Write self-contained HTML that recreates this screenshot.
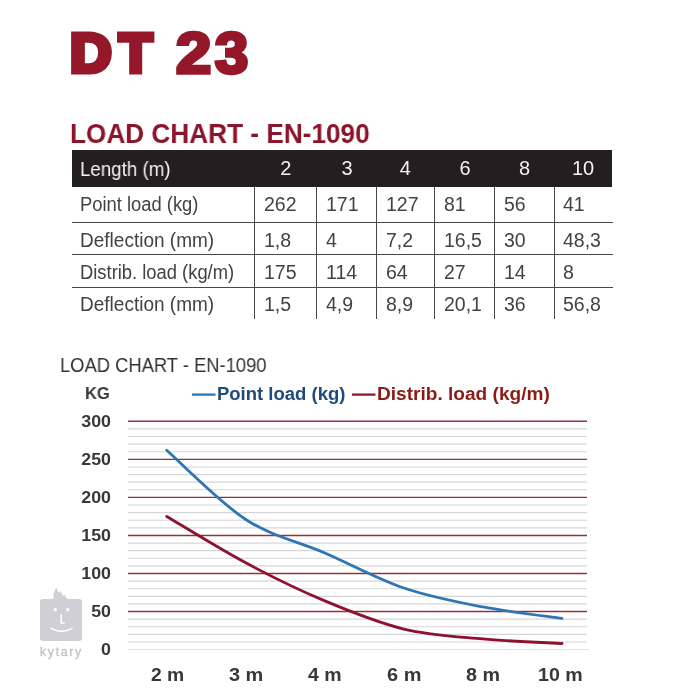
<!DOCTYPE html>
<html lang="en">
<head>
<meta charset="utf-8">
<title>DT 23 - Load chart EN-1090</title>
<style>
html,body{margin:0;padding:0;background:#fff;}
body{width:698px;height:698px;position:relative;overflow:hidden;font-family:"Liberation Sans",sans-serif;color:#3a3a3c;}
div{position:absolute;white-space:nowrap;will-change:transform;}
#dt{left:0;top:19.76px;width:300px;height:66px;font-size:54.9px;line-height:66px;font-weight:bold;color:#95182a;-webkit-text-stroke:5.2px #95182a;}
#dt span{position:absolute;top:0;transform-origin:0 0;}
#dt span.n{font-size:56.8px;-webkit-text-stroke-width:3.6px;top:0.7px;}
#h2{left:70.15px;top:118.8px;font-size:28px;line-height:30px;font-weight:bold;color:#8b142a;transform-origin:0 0;transform:scaleX(0.935);}
#thead{left:72px;top:150px;width:540.3px;height:36.6px;background:#231f20;}
#hlab{left:79.6px;top:157.6px;font-size:20px;line-height:22px;color:#f2f2f2;transform-origin:0 0;transform:scaleX(0.936);}
.hc{top:157.2px;font-size:20px;line-height:22px;color:#f2f2f2;text-align:center;}
.lab{left:80.2px;font-size:19.5px;line-height:22px;color:#424244;}
.lab span{display:inline-block;transform-origin:0 0;}
.dc{font-size:19.5px;line-height:22px;color:#424244;}
.hl{left:72px;width:541.2px;height:1.45px;background:#48484a;}
.vl{top:186px;height:133px;width:1.45px;background:#48484a;}
#ct{left:59.6px;top:354.2px;font-size:20px;line-height:22px;color:#333335;transform-origin:0 0;transform:scaleX(0.918);}
#kg{left:85.2px;top:383px;font-size:17.4px;line-height:20px;font-weight:bold;color:#38383a;transform-origin:0 0;transform:scaleX(0.95);}
.lg{top:383.5px;font-size:18px;line-height:20px;font-weight:bold;transform-origin:0 0;}
#lg1{left:217.2px;color:#1f4b7c;transform:scaleX(1.027);}
#lg2{left:377px;color:#8a1b16;transform:scaleX(1.06);}
.yl{left:50.6px;width:60px;text-align:right;font-size:16.5px;line-height:20px;font-weight:bold;color:#38383a;transform-origin:100% 0;transform:scaleX(1.08);}
.xl{top:664.5px;font-size:17.6px;line-height:20px;font-weight:bold;color:#38383a;transform-origin:0 0;}
#chart{position:absolute;left:0;top:0;}
#wm{left:40.3px;top:599.1px;width:42px;height:41.8px;background:#d0cfd3;border-radius:3px;}
#wmt{left:40.3px;top:644.6px;font-size:12.4px;line-height:14px;letter-spacing:1.65px;color:#c2c2c5;-webkit-text-stroke:0.3px #c2c2c5;}
</style>
</head>
<body>
<div id="dt"><span style="left:70.39px;transform:scaleX(1.050)">D</span><span style="left:119.14px;transform:scaleX(0.996)">T</span> <span class="n" style="left:175.82px;transform:scaleX(1.115)">2</span><span class="n" style="left:214.77px;transform:scaleX(1.051)">3</span></div>
<div id="h2">LOAD CHART - EN-1090</div>
<div id="thead"></div>
<div id="hlab">Length (m)</div>
<div class="hc" style="left:254.9px;width:61.6px">2</div>
<div class="hc" style="left:316.5px;width:59.9px">3</div>
<div class="hc" style="left:376.4px;width:58.6px">4</div>
<div class="hc" style="left:435.0px;width:60.0px">6</div>
<div class="hc" style="left:495.0px;width:59.2px">8</div>
<div class="hc" style="left:554.2px;width:58.1px">10</div>
<div class="lab" style="top:193.35px"><span style="transform:scaleX(0.942)">Point load (kg)</span></div>
<div class="dc" style="top:193.35px;left:264.1px">262</div>
<div class="dc" style="top:193.35px;left:325.7px">171</div>
<div class="dc" style="top:193.35px;left:385.6px">127</div>
<div class="dc" style="top:193.35px;left:444.2px">81</div>
<div class="dc" style="top:193.35px;left:504.2px">56</div>
<div class="dc" style="top:193.35px;left:563.4px">41</div>
<div class="lab" style="top:229.25px"><span style="transform:scaleX(0.975)">Deflection (mm)</span></div>
<div class="dc" style="top:229.25px;left:264.1px">1,8</div>
<div class="dc" style="top:229.25px;left:325.7px">4</div>
<div class="dc" style="top:229.25px;left:385.6px">7,2</div>
<div class="dc" style="top:229.25px;left:444.2px">16,5</div>
<div class="dc" style="top:229.25px;left:504.2px">30</div>
<div class="dc" style="top:229.25px;left:563.4px">48,3</div>
<div class="lab" style="top:260.75px"><span style="transform:scaleX(0.942)">Distrib. load (kg/m)</span></div>
<div class="dc" style="top:260.75px;left:264.1px">175</div>
<div class="dc" style="top:260.75px;left:325.7px">114</div>
<div class="dc" style="top:260.75px;left:385.6px">64</div>
<div class="dc" style="top:260.75px;left:444.2px">27</div>
<div class="dc" style="top:260.75px;left:504.2px">14</div>
<div class="dc" style="top:260.75px;left:563.4px">8</div>
<div class="lab" style="top:293.15px"><span style="transform:scaleX(0.975)">Deflection (mm)</span></div>
<div class="dc" style="top:293.15px;left:264.1px">1,5</div>
<div class="dc" style="top:293.15px;left:325.7px">4,9</div>
<div class="dc" style="top:293.15px;left:385.6px">8,9</div>
<div class="dc" style="top:293.15px;left:444.2px">20,1</div>
<div class="dc" style="top:293.15px;left:504.2px">36</div>
<div class="dc" style="top:293.15px;left:563.4px">56,8</div>
<div class="hl" style="top:222.1px"></div>
<div class="hl" style="top:254.3px"></div>
<div class="hl" style="top:286.5px"></div>
<div class="vl" style="left:254.2px"></div>
<div class="vl" style="left:315.8px"></div>
<div class="vl" style="left:375.7px"></div>
<div class="vl" style="left:434.3px"></div>
<div class="vl" style="left:494.3px"></div>
<div class="vl" style="left:553.5px"></div>
<div id="ct">LOAD CHART - EN-1090</div>
<div id="kg">KG</div>
<div id="wm"></div>
<svg id="chart" width="698" height="698" viewBox="0 0 698 698">
<g shape-rendering="auto">
<line x1="128.0" x2="589.0" y1="649.60" y2="649.60" stroke="#dcdce0" stroke-width="0.9"/>
<line x1="128.0" x2="587.0" y1="641.99" y2="641.99" stroke="#d6d5da" stroke-width="1.15"/>
<line x1="128.0" x2="587.0" y1="634.38" y2="634.38" stroke="#d6d5da" stroke-width="1.15"/>
<line x1="128.0" x2="587.0" y1="626.77" y2="626.77" stroke="#d6d5da" stroke-width="1.15"/>
<line x1="128.0" x2="587.0" y1="619.16" y2="619.16" stroke="#d6d5da" stroke-width="1.15"/>
<line x1="128.0" x2="587.0" y1="611.55" y2="611.55" stroke="#94303c" stroke-width="1.4"/>
<line x1="128.0" x2="587.0" y1="603.94" y2="603.94" stroke="#d6d5da" stroke-width="1.15"/>
<line x1="128.0" x2="587.0" y1="596.33" y2="596.33" stroke="#d6d5da" stroke-width="1.15"/>
<line x1="128.0" x2="587.0" y1="588.72" y2="588.72" stroke="#d6d5da" stroke-width="1.15"/>
<line x1="128.0" x2="587.0" y1="581.11" y2="581.11" stroke="#d6d5da" stroke-width="1.15"/>
<line x1="128.0" x2="587.0" y1="573.50" y2="573.50" stroke="#94303c" stroke-width="1.4"/>
<line x1="128.0" x2="587.0" y1="565.89" y2="565.89" stroke="#d6d5da" stroke-width="1.15"/>
<line x1="128.0" x2="587.0" y1="558.28" y2="558.28" stroke="#d6d5da" stroke-width="1.15"/>
<line x1="128.0" x2="587.0" y1="550.67" y2="550.67" stroke="#d6d5da" stroke-width="1.15"/>
<line x1="128.0" x2="587.0" y1="543.06" y2="543.06" stroke="#d6d5da" stroke-width="1.15"/>
<line x1="128.0" x2="587.0" y1="535.45" y2="535.45" stroke="#94303c" stroke-width="1.4"/>
<line x1="128.0" x2="587.0" y1="527.84" y2="527.84" stroke="#d6d5da" stroke-width="1.15"/>
<line x1="128.0" x2="587.0" y1="520.23" y2="520.23" stroke="#d6d5da" stroke-width="1.15"/>
<line x1="128.0" x2="587.0" y1="512.62" y2="512.62" stroke="#d6d5da" stroke-width="1.15"/>
<line x1="128.0" x2="587.0" y1="505.01" y2="505.01" stroke="#d6d5da" stroke-width="1.15"/>
<line x1="128.0" x2="587.0" y1="497.40" y2="497.40" stroke="#94303c" stroke-width="1.4"/>
<line x1="128.0" x2="587.0" y1="489.79" y2="489.79" stroke="#d6d5da" stroke-width="1.15"/>
<line x1="128.0" x2="587.0" y1="482.18" y2="482.18" stroke="#d6d5da" stroke-width="1.15"/>
<line x1="128.0" x2="587.0" y1="474.57" y2="474.57" stroke="#d6d5da" stroke-width="1.15"/>
<line x1="128.0" x2="587.0" y1="466.96" y2="466.96" stroke="#d6d5da" stroke-width="1.15"/>
<line x1="128.0" x2="587.0" y1="459.35" y2="459.35" stroke="#94303c" stroke-width="1.4"/>
<line x1="128.0" x2="587.0" y1="451.74" y2="451.74" stroke="#d6d5da" stroke-width="1.15"/>
<line x1="128.0" x2="587.0" y1="444.13" y2="444.13" stroke="#d6d5da" stroke-width="1.15"/>
<line x1="128.0" x2="587.0" y1="436.52" y2="436.52" stroke="#d6d5da" stroke-width="1.15"/>
<line x1="128.0" x2="587.0" y1="428.91" y2="428.91" stroke="#d6d5da" stroke-width="1.15"/>
<line x1="128.0" x2="587.0" y1="421.30" y2="421.30" stroke="#94303c" stroke-width="1.4"/>
</g>
<line x1="192" x2="215.5" y1="394.6" y2="394.6" stroke="#2e75b6" stroke-width="2.3"/>
<line x1="352" x2="375.5" y1="394.6" y2="394.6" stroke="#8c1a2e" stroke-width="2.3"/>
<path d="M166.70 450.22 C179.88 461.76 219.41 502.35 245.76 519.47 C272.11 536.59 298.47 541.54 324.82 552.95 C351.17 564.37 377.53 578.95 403.88 587.96 C430.23 596.96 456.59 601.91 482.94 606.98 C509.29 612.06 548.82 616.50 562.00 618.40" fill="none" stroke="#2e75b6" stroke-width="2.8" stroke-linecap="round"/>
<path d="M166.70 516.42 C179.88 524.16 219.41 548.77 245.76 562.85 C272.11 576.92 298.47 589.86 324.82 600.90 C351.17 611.93 377.53 622.71 403.88 629.05 C430.23 635.39 456.59 636.54 482.94 638.95 C509.29 641.36 548.82 642.75 562.00 643.51" fill="none" stroke="#8c1230" stroke-width="2.8" stroke-linecap="round"/>
<path d="M53.4 599.5 C53.2 593 54.5 589.5 57.2 587.2 C56.8 589.8 57.6 591.5 59.2 592.6 C59.6 591.8 60.2 591.4 60.9 591.2 C61 593 62 594.6 63.6 595.6 C64 595.2 64.4 595 64.9 595 C65.2 596.6 66.4 598 68.2 599.5 Z" fill="#d0cfd3"/>
<circle cx="55.4" cy="609.7" r="1.6" fill="#fff"/>
<circle cx="67.6" cy="609.7" r="1.6" fill="#fff"/>
<path d="M61.2 614.2 V623 H64.8" fill="none" stroke="#fff" stroke-width="1.6"/>
<path d="M51.2 628.4 Q61.6 634.4 72 628.4" fill="none" stroke="#fff" stroke-width="1.6" stroke-linecap="round"/>
</svg>
<div id="wmt">kytary</div>
<div class="lg" id="lg1">Point load (kg)</div>
<div class="lg" id="lg2">Distrib. load (kg/m)</div>
<div class="yl" style="top:639.4px">0</div>
<div class="yl" style="top:601.4px">50</div>
<div class="yl" style="top:563.3px">100</div>
<div class="yl" style="top:525.2px">150</div>
<div class="yl" style="top:487.2px">200</div>
<div class="yl" style="top:449.2px">250</div>
<div class="yl" style="top:411.1px">300</div>
<div class="xl" style="left:151.34px;transform:scaleX(1.097)">2 m</div>
<div class="xl" style="left:228.89px;transform:scaleX(1.132)">3 m</div>
<div class="xl" style="left:307.87px;transform:scaleX(1.108)">4 m</div>
<div class="xl" style="left:386.89px;transform:scaleX(1.134)">6 m</div>
<div class="xl" style="left:465.53px;transform:scaleX(1.122)">8 m</div>
<div class="xl" style="left:537.91px;transform:scaleX(1.116)">10 m</div>
</body>
</html>
